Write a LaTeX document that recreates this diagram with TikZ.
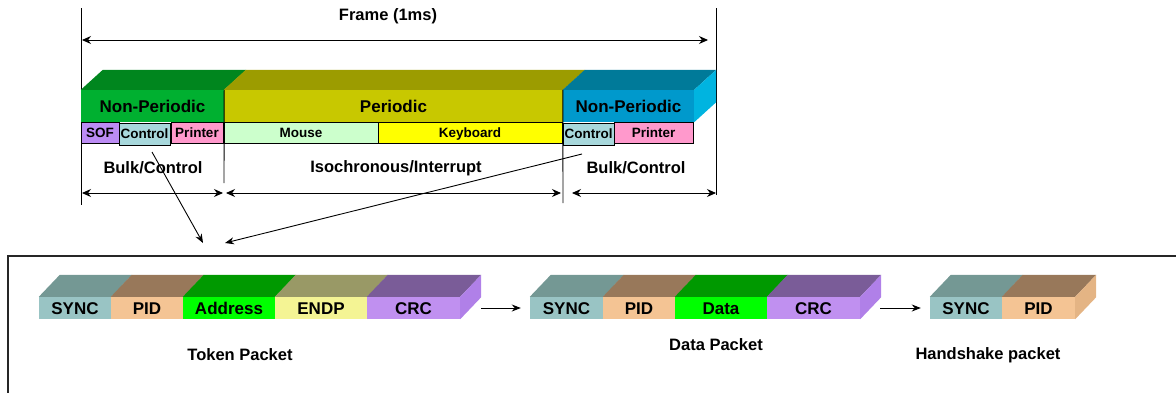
\documentclass[tikz,border=0pt]{standalone}
\usepackage{fontspec}
\setmainfont{Liberation Sans}
\usetikzlibrary{arrows.meta,calc}

\definecolor{npgF}{HTML}{00B030}\definecolor{npgT}{HTML}{00861E}
\definecolor{perF}{HTML}{C8C800}\definecolor{perT}{HTML}{9C9C00}
\definecolor{npbF}{HTML}{0099CC}\definecolor{npbT}{HTML}{007A99}\definecolor{npbS}{HTML}{00B4E0}
\definecolor{sofC}{HTML}{BC8CF4}\definecolor{ctlC}{HTML}{A8D8DC}
\definecolor{prnC}{HTML}{FF99CC}\definecolor{mouC}{HTML}{CCFFCC}\definecolor{kbdC}{HTML}{FFFF00}
\definecolor{syncF}{HTML}{99C4C4}\definecolor{syncT}{HTML}{749894}
\definecolor{pidF}{HTML}{F4C494}\definecolor{pidT}{HTML}{98785A}\definecolor{pidS}{HTML}{E4B484}
\definecolor{addrF}{HTML}{00FF00}\definecolor{addrT}{HTML}{009900}
\definecolor{endpF}{HTML}{F4F494}\definecolor{endpT}{HTML}{999966}
\definecolor{crcF}{HTML}{C090F0}\definecolor{crcT}{HTML}{7A5C98}\definecolor{crcS}{HTML}{B080E8}

% slanted top face and right side face of a block
\newcommand\slabtop[3]{\fill[#3] (#1.north west) -- ++(#2) -- ($(#1.north east)+(#2)$) -- (#1.north east) -- cycle;}
\newcommand\slabside[3]{\fill[#3] (#1.north east) -- ++(#2) -- ($(#1.south east)+(#2)$) -- (#1.south east) -- cycle;}

\begin{document}
\begin{tikzpicture}[x=1pt,y=-1pt,
  lbl/.style={inner sep=0, font=\fontsize{16.5}{16.5}\selectfont\bfseries},
  seg/.style={inner sep=0, minimum height=32pt, text height=12.2pt, text depth=0pt, font=\fontsize{17}{17}\selectfont\bfseries},
  sub/.style={draw=black, line width=0.8pt, inner sep=0, minimum height=21pt, text height=9.7pt, text depth=0pt, font=\fontsize{13.5}{13.5}\selectfont\bfseries},
  fld/.style={inner sep=0, minimum height=22pt, text height=12.2pt, text depth=0pt, font=\fontsize{17}{17}\selectfont\bfseries},
  dim/.style={line width=0.9pt, {Stealth[length=9pt,width=8pt]}-{Stealth[length=9pt,width=8pt]}},
  link/.style={line width=0.9pt, -{Stealth[length=9pt,width=7pt]}},
  rule/.style={line width=0.9pt}]
\useasboundingbox (0,0) rectangle (1176,392);

% ---- frame layout ----
\node[lbl] (frame) at (388,16) {Frame (1ms)};
\coordinate (fL) at (81,8);  \coordinate (fLb) at (81,205);
\coordinate (fR) at (716,8); \coordinate (fRb) at (716,195);
\draw[rule] (fL) -- (fLb);
\draw[rule] (fR) -- (fRb);
\coordinate (fa1) at (82,40); \coordinate (fa2) at (708,40);
\draw[dim] (fa1) -- (fa2);

\node[seg, fill=npgF, minimum width=143pt] (np1) at (152.5,106) {Non-Periodic};
\node[seg, fill=perF, minimum width=339pt] (per) at (393.5,106) {Periodic};
\node[seg, fill=npbF, minimum width=131pt] (np2) at (628.5,106) {Non-Periodic};
\slabtop{np1}{22,-20}{npgT}
\slabtop{per}{22,-20}{perT}
\slabtop{np2}{22,-20}{npbT}
\slabside{np2}{22,-20}{npbS}

\node[sub, fill=sofC, minimum width=38pt] (sof) at (100,132.5) {SOF};
\node[sub, fill=prnC, minimum width=52pt] (prn1) at (197,132.5) {Printer};
\node[sub, fill=ctlC, minimum width=51pt, minimum height=22pt] (ctl1) at (144.5,134) {Control};
\node[sub, fill=mouC, minimum width=154pt] (mou) at (301,132.5) {Mouse};
\node[sub, fill=kbdC, minimum width=184pt] (kbd) at (470,132.5) {Keyboard};
\node[sub, fill=prnC, minimum width=79pt] (prn2) at (653.5,132.5) {Printer};
\node[sub, fill=ctlC, minimum width=51pt, minimum height=22pt] (ctl2) at (588.5,134) {Control};

\coordinate (s1b) at (224,183);
\coordinate (s2b) at (563,203);
\draw[rule] (np1.north east) -- (s1b);
\draw[rule] (np2.north west) -- (s2b);

\node[lbl] (bc1) at (153,168) {Bulk/Control};
\node[lbl] (iso) at (396,168) {Isochronous/Interrupt};
\node[lbl] (bc2) at (636,168) {Bulk/Control};

\coordinate (d1a) at (82,193);  \coordinate (d1b) at (223,193);
\coordinate (d2a) at (226,193); \coordinate (d2b) at (561,193);
\coordinate (d3a) at (572,193); \coordinate (d3b) at (716,193);
\draw[dim] (d1a) -- (d1b);
\draw[dim] (d2a) -- (d2b);
\draw[dim] (d3a) -- (d3b);

% ---- links to the packet view ----
\coordinate (l1s) at (152,152); \coordinate (l1e) at (203,243);
\coordinate (l2s) at (582,154); \coordinate (l2e) at (225,243);
\draw[link] (l1s) -- (l1e);
\draw[link] (l2s) -- (l2e);

% ---- packet panel ----
\begin{scope}
\clip (0,0) rectangle (1176,392);
\draw[line width=1.3pt, draw=black!85] (8,256) rectangle (1190,400);
\end{scope}

% token packet
\node[fld, fill=syncF, minimum width=72pt] (t1) at (75,308) {SYNC};
\node[fld, fill=pidF,  minimum width=72pt] (t2) at (147,308) {PID};
\node[fld, fill=addrF, minimum width=92pt] (t3) at (229,308) {Address};
\node[fld, fill=endpF, minimum width=92pt] (t4) at (321,308) {ENDP};
\node[fld, fill=crcF,  minimum width=93pt] (t5) at (413.5,308) {CRC};
\slabtop{t1}{21,-22}{syncT}
\slabtop{t2}{21,-22}{pidT}
\slabtop{t3}{21,-22}{addrT}
\slabtop{t4}{21,-22}{endpT}
\slabtop{t5}{21,-22}{crcT}
\slabside{t5}{21,-22}{crcS}
\node[lbl] (tok) at (240,355) {Token Packet};

% data packet
\node[fld, fill=syncF, minimum width=73pt] (d1) at (566.5,308) {SYNC};
\node[fld, fill=pidF,  minimum width=72pt] (d2) at (639,308) {PID};
\node[fld, fill=addrF, minimum width=92pt] (d3) at (721,308) {Data};
\node[fld, fill=crcF,  minimum width=93pt] (d4) at (813.5,308) {CRC};
\slabtop{d1}{21,-22}{syncT}
\slabtop{d2}{21,-22}{pidT}
\slabtop{d3}{21,-22}{addrT}
\slabtop{d4}{21,-22}{crcT}
\slabside{d4}{21,-22}{crcS}
\node[lbl] (dat) at (716,345) {Data Packet};

% handshake packet
\node[fld, fill=syncF, minimum width=72pt] (h1) at (966,308) {SYNC};
\node[fld, fill=pidF,  minimum width=73pt] (h2) at (1038.5,308) {PID};
\slabtop{h1}{21,-22}{syncT}
\slabtop{h2}{21,-22}{pidT}
\slabside{h2}{21,-22}{pidS}
\node[lbl] (hs) at (988,355) {Handshake packet};

% sequence arrows
\draw[link] ($(t5.east)+(21,0)$) -- ($(d1.west)+(-9,0)$);
\draw[link] ($(d4.east)+(20,0)$) -- ($(h1.west)+(-9,0)$);
\end{tikzpicture}
\end{document}
